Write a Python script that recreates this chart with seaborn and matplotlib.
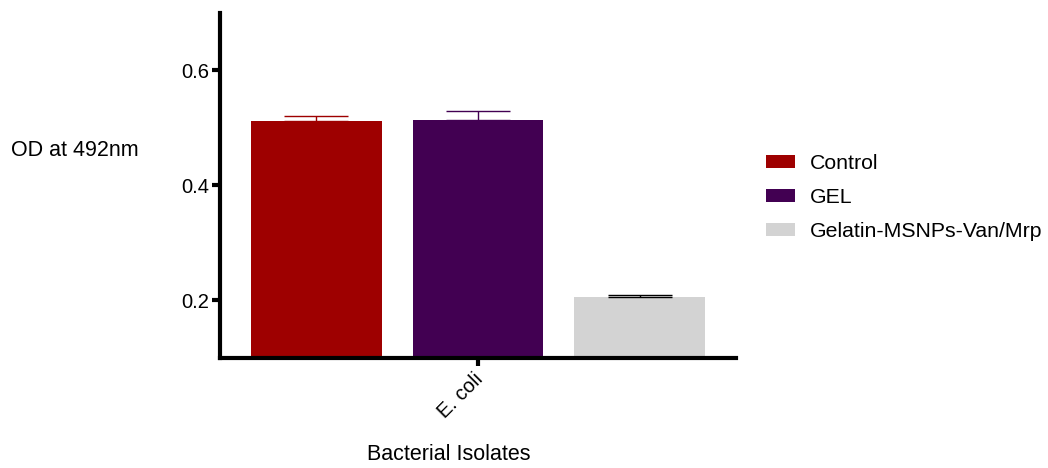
import matplotlib
matplotlib.use("Agg")
import matplotlib.pyplot as plt
import matplotlib.transforms as mtransforms
import seaborn as sns
import pandas as pd

# Optical density of biofilm per treatment group
isolates = ["E. coli"]
groups = ["Control", "GEL", "Gelatin-MSNPs-Van/Mrp"]
od_mean = [0.512, 0.514, 0.206]
od_sem = [0.008, 0.015, 0.004]
bar_colors = ["#9E0000", "#420052", "#D3D3D3"]
err_colors = ["#9E0000", "#420052", "#000000"]

df = pd.DataFrame({
    "isolate": isolates * len(groups),
    "group": groups,
    "od": od_mean,
})

sns.set_style("white", {"text.color": "black", "axes.labelcolor": "black",
                        "xtick.color": "black", "ytick.color": "black"})
plt.rcParams["font.family"] = ["Liberation Sans", "DejaVu Sans"]

W, H = 1048, 468
fig = plt.figure(figsize=(W / 100, H / 100), dpi=100)
ax = fig.add_axes([220 / W, 1 - 358 / H, 516 / W, (358 - 12.7) / H])

sns.barplot(data=df, x="isolate", y="od", hue="group", hue_order=groups,
            palette=bar_colors, width=0.8, gap=0.195, errorbar=None,
            saturation=1, linewidth=0, legend=True, ax=ax)

# one-sided (upper) SEM bars drawn over each bar
for patch, m, e, c in zip(ax.patches[:len(groups)], od_mean, od_sem, err_colors):
    cx = patch.get_x() + patch.get_width() / 2
    ax.errorbar(cx, m, yerr=[[0], [e]], fmt="none", ecolor=c,
                elinewidth=1.0, capsize=23, capthick=1.0, zorder=3)

ax.set_ylim(0.1, 0.7)
ax.set_xlim(-0.426, 0.426)
ax.set_yticks([0.2, 0.4, 0.6])
ax.set_yticklabels(["0.2", "0.4", "0.6"])

for side in ("top", "right"):
    ax.spines[side].set_visible(False)
for side in ("left", "bottom"):
    ax.spines[side].set_linewidth(3)
    ax.spines[side].set_color("black")

ax.tick_params(axis="both", which="major", length=6, width=3, color="black",
               labelsize=14.5, pad=2, left=True, bottom=True)
shift = mtransforms.ScaledTranslation(-5 / 100, 0, fig.dpi_scale_trans)
for lbl in ax.get_xticklabels():
    lbl.set_rotation(45)
    lbl.set_ha("right")
    lbl.set_rotation_mode("anchor")
    lbl.set_transform(lbl.get_transform() + shift)

ax.set_ylabel("")
ax.set_xlabel("")
fig.text(11 / W, 1 - 150 / H, "OD at 492nm", fontsize=15.5, ha="left", va="center")
fig.text(448.5 / W, 1 - 455 / H, "Bacterial Isolates", fontsize=15.5,
         ha="center", va="center")

ax.legend(loc="center left", bbox_to_anchor=(765.7 / W, 1 - 197.5 / H),
          bbox_transform=fig.transFigure, frameon=False, fontsize=15.3,
          handlelength=1.37, handleheight=0.55, handletextpad=0.7,
          labelspacing=0.72, borderpad=0, borderaxespad=0)

fig.savefig("out.png", dpi=100)
